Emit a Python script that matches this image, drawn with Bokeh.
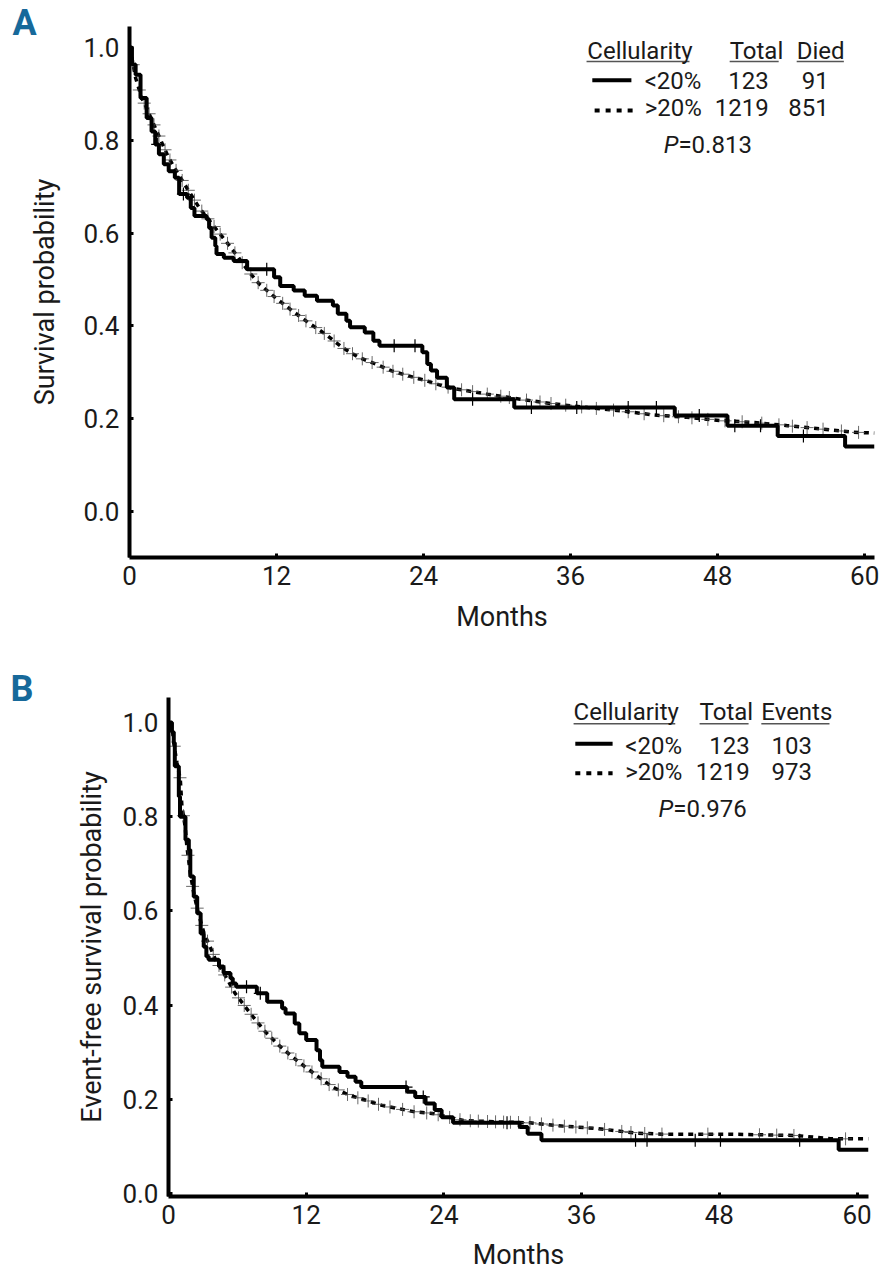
import numpy as np
from bokeh.plotting import figure
from bokeh.models import Range1d, FixedTicker, Label
from bokeh.embed import file_html
from bokeh.resources import INLINE

# ---------------- data ----------------
x_ticks = [0, 12, 24, 36, 48, 60]
y_ticks = [0.0, 0.2, 0.4, 0.6, 0.8, 1.0]
y_tick_labels = ["0.0", "0.2", "0.4", "0.6", "0.8", "1.0"]

groups = ["<20%", ">20%"]
totals = ["123", "1219"]
died_A = ["91", "851"]
events_B = ["103", "973"]
p_A = "=0.813"
p_B = "=0.976"

# Panel A, overall survival, <20% (Kaplan-Meier steps)
tA_lo = [0, 0.2, 0.5, 0.9, 1.4, 1.8, 2.1, 2.4, 2.8, 3.2, 3.7, 4.05, 4.7, 5.0, 5.3, 6.3,
         6.5, 6.7, 7.0, 7.1, 7.7, 8.5, 9.6, 11.8, 12.3, 13.4, 14.3, 15.3, 16.6, 17.0,
         17.7, 18.0, 19.2, 19.9, 20.4, 23.9, 24.3, 24.6, 25.1, 25.9, 26.5, 31.4, 44.5,
         48.8, 52.9, 58.4, 60.8]
sA_lo = [1.0, 0.963, 0.941, 0.891, 0.848, 0.819, 0.791, 0.770, 0.748, 0.733, 0.719, 0.684,
         0.676, 0.654, 0.637, 0.630, 0.611, 0.590, 0.572, 0.555, 0.547, 0.540, 0.522,
         0.505, 0.486, 0.476, 0.465, 0.454, 0.444, 0.426, 0.411, 0.397, 0.386, 0.368,
         0.357, 0.343, 0.318, 0.304, 0.288, 0.267, 0.242, 0.224, 0.207, 0.185, 0.163,
         0.140, 0.140]
cA_lo = [2.3, 4.4, 11.2, 21.6, 23.3, 28.0, 32.8, 36.5, 40.7, 43.0, 46.5, 49.4, 51.5, 55.0]

# Panel A, >20%
tA_hi = [0, 0.2, 0.5, 1.0, 1.45, 2.1, 2.7, 3.2, 4.0, 4.85, 5.7, 6.75, 7.85, 8.9, 9.7, 10.6,
         11.9, 13.3, 14.6, 16.0, 17.4, 18.7, 20.1, 21.4, 22.8, 24.2, 25.5, 26.5, 29.2,
         31.9, 34.6, 37.4, 40.1, 42.8, 45.5, 48.2, 51.0, 53.7, 56.4, 59.1, 60.8]
sA_hi = [1.0, 0.977, 0.934, 0.891, 0.866, 0.827, 0.791, 0.762, 0.726, 0.690, 0.654, 0.619,
         0.583, 0.547, 0.518, 0.490, 0.461, 0.432, 0.407, 0.382, 0.353, 0.332, 0.318,
         0.303, 0.292, 0.282, 0.271, 0.265, 0.253, 0.242, 0.232, 0.224, 0.217, 0.208,
         0.203, 0.196, 0.192, 0.185, 0.178, 0.171, 0.169]
cA_hi = [0.3, 0.8, 1.2, 1.6, 2.0, 2.4, 2.9, 3.3, 3.8, 4.3, 4.8, 5.3, 5.9, 6.4, 6.9, 7.4, 8.0,
         8.6, 9.2, 9.9, 10.5, 11.2, 11.8, 12.5, 13.1, 13.8, 14.4, 15.2, 15.9, 16.7, 17.5,
         18.2, 19.0, 19.8, 20.7, 21.5, 22.3, 23.2, 24.1, 25.0, 26.0, 27.1, 28.0, 29.2,
         30.3, 31.0, 32.4, 33.5, 34.4, 35.6, 36.9, 38.1, 39.5, 40.7, 42.0, 43.6, 44.8,
         45.9, 47.2, 48.6, 50.0, 51.6, 53.0, 54.1, 55.3, 56.6, 58.1, 59.5]

# Panel B, event-free survival, <20%
tB_lo = [0, 0.3, 0.46, 0.55, 0.9, 1.0, 1.48, 1.77, 1.9, 2.2, 2.5, 2.8, 3.07, 3.3, 3.5, 4.4,
         4.8, 5.4, 5.6, 5.9, 7.7, 8.6, 9.9, 10.2, 11.0, 11.4, 12.0, 12.9, 13.2, 13.4, 14.9,
         15.6, 16.3, 16.8, 20.8, 21.5, 22.4, 23.2, 23.8, 24.8, 30.6, 31.3, 32.5, 58.4, 61.0]
sB_lo = [1.0, 0.98, 0.957, 0.907, 0.843, 0.80, 0.751, 0.73, 0.673, 0.630, 0.595, 0.552,
         0.524, 0.503, 0.496, 0.482, 0.468, 0.457, 0.446, 0.439, 0.425, 0.407, 0.393,
         0.382, 0.361, 0.340, 0.326, 0.304, 0.283, 0.269, 0.258, 0.248, 0.237, 0.226,
         0.216, 0.205, 0.191, 0.177, 0.162, 0.150, 0.141, 0.127, 0.113, 0.093, 0.093]
cB_lo = [6.8, 8.0, 20.7, 22.2, 29.5, 40.7, 41.7, 45.9, 48.1, 55.0]

# Panel B, >20%
tB_hi = [0, 0.32, 0.45, 0.74, 1.03, 1.17, 1.45, 1.6, 1.9, 2.2, 2.6, 3.1, 3.6, 4.1, 5.0, 5.8,
         6.7, 7.6, 8.45, 9.6, 10.8, 11.9, 13.1, 14.3, 15.7, 17.2, 18.6, 20.1, 21.5, 23.0,
         24.4, 25.7, 28.6, 31.5, 34.4, 37.3, 40.8, 43.1, 48.9, 54.8, 57.7, 61.0]
sB_hi = [1.0, 0.99, 0.957, 0.914, 0.879, 0.822, 0.779, 0.737, 0.68, 0.638, 0.595, 0.552,
         0.525, 0.496, 0.460, 0.425, 0.396, 0.368, 0.343, 0.315, 0.290, 0.269, 0.247,
         0.226, 0.209, 0.198, 0.187, 0.180, 0.173, 0.170, 0.162, 0.155, 0.152, 0.150,
         0.143, 0.138, 0.128, 0.126, 0.126, 0.123, 0.116, 0.116]
cB_hi = [0.5, 1.0, 1.3, 1.7, 2.1, 2.5, 2.9, 3.4, 3.9, 4.4, 4.9, 5.5, 6.1, 6.6, 7.2, 7.8,
         8.4, 9.0, 9.7, 10.4, 11.1, 11.8, 12.5, 13.3, 14.0, 14.8, 15.6, 16.5, 17.4, 18.3,
         19.3, 20.4, 21.4, 22.5, 23.5, 24.5, 25.4, 26.3, 27.0, 27.8, 28.5, 29.2, 29.8,
         30.5, 31.5, 32.5, 33.5, 34.5, 35.5, 36.5, 38.0, 39.5, 40.3, 41.5, 43.0, 47.0,
         51.5, 53.0, 54.5, 59.0]

FONT = "Roboto"
TXT = "#1a1a1a"
BLUE = "#17699a"


def step_at(ts, t, s):
    idx = np.searchsorted(np.asarray(t), np.asarray(ts), side="right") - 1
    return list(np.asarray(s)[idx])


def style(p, ylabel, ystand, xstand):
    p.grid.visible = False
    p.outline_line_color = None
    for ax in (p.xaxis[0], p.yaxis[0]):
        ax.axis_line_width = 4
        ax.axis_line_color = "black"
        ax.major_tick_in = 4
        ax.major_tick_out = 0
        ax.major_tick_line_width = 3
        ax.major_tick_line_color = "black"
        ax.minor_tick_line_color = None
        ax.major_label_text_font = FONT
        ax.major_label_text_font_size = "26px"
        ax.major_label_text_color = TXT
        ax.axis_label_text_font = FONT
        ax.axis_label_text_font_size = "27px"
        ax.axis_label_text_font_style = "normal"
        ax.axis_label_text_color = TXT
    p.xaxis.ticker = FixedTicker(ticks=x_ticks)
    p.yaxis.ticker = FixedTicker(ticks=y_ticks)
    p.yaxis.major_label_overrides = {t: l for t, l in zip(y_ticks, y_tick_labels)}
    p.xaxis.axis_label = "Months"
    p.yaxis.axis_label = ylabel
    p.xaxis.major_label_standoff = 8
    p.yaxis.major_label_standoff = 10
    p.xaxis.axis_label_standoff = xstand
    p.yaxis.axis_label_standoff = ystand


def lab(p, x, y, text, align="left", size="24px", style_="normal", color=TXT, font=FONT,
        place=None):
    lb = Label(x=x, y=y, text=text, text_align=align, text_baseline="middle",
               text_font=font, text_font_size=size, text_font_style=style_,
               text_color=color)
    if place is None:
        p.add_layout(lb)
    else:
        p.add_layout(lb, place)


def curves(p, t_lo, s_lo, c_lo, t_hi, s_hi, c_hi):
    p.line(t_hi, s_hi, line_color="black", line_width=3.5, line_dash="5 5")
    p.scatter(c_hi, list(np.interp(c_hi, t_hi, s_hi)), marker="cross", size=13,
              line_color="#444444", line_width=1, line_alpha=0.8)
    p.step(t_lo, s_lo, mode="after", line_color="black", line_width=4)
    p.scatter(c_lo, step_at(c_lo, t_lo, s_lo), marker="cross", size=13,
              line_color="black", line_width=1.2)


# ---------------- panel A ----------------
pA = figure(width=880, height=665, output_backend="svg", toolbar_location=None,
            x_range=Range1d(0, 60.8), y_range=Range1d(-0.099, 1.045),
            min_border_left=129, min_border_right=6, min_border_top=26,
            min_border_bottom=108)
style(pA, "Survival probability", 19, 13)
curves(pA, tA_lo, sA_lo, cA_lo, tA_hi, sA_hi, cA_hi)

lab(pA, 37.36, 0.993, "Cellularity")
lab(pA, 48.98, 0.993, "Total")
lab(pA, 54.45, 0.993, "Died")
pA.segment(x0=[37.3, 48.98, 54.45], y0=[0.9698] * 3, x1=[45.7, 52.98, 58.3],
           y1=[0.9698] * 3, line_color="#555555", line_width=1.5)
pA.segment(x0=[37.77], y0=[0.929], x1=[40.96], y1=[0.929], line_color="black", line_width=4)
pA.segment(x0=[37.96], y0=[0.864], x1=[41.06], y1=[0.864], line_color="black", line_width=4,
           line_dash="5 6")
for g, tot, d, yc in zip(groups, totals, died_A, [0.928, 0.870]):
    lab(pA, 42.04, yc, g)
    lab(pA, 52.16, yc, tot, align="right")
    lab(pA, 57.06, yc, d, align="right")
lab(pA, 44.8, 0.7905, "P", align="right", style_="italic")
lab(pA, 44.8, 0.7905, p_A)
lab(pA, -9.55, 1.053, "A", size="36px", style_="bold", color=BLUE, place="left")

# ---------------- panel B ----------------
pB = figure(width=880, height=611, output_backend="svg", toolbar_location=None,
            x_range=Range1d(0, 61.0), y_range=Range1d(-0.0064, 1.053),
            min_border_left=168, min_border_right=12, min_border_top=32,
            min_border_bottom=80)
style(pB, "Event-free survival probability", 11, 12)
curves(pB, tB_lo, sB_lo, cB_lo, tB_hi, sB_hi, cB_hi)

lab(pB, 35.3, 1.0227, "Cellularity")
lab(pB, 46.28, 1.0227, "Total")
lab(pB, 51.66, 1.0227, "Events")
pB.segment(x0=[35.3, 46.28, 51.66], y0=[0.9972] * 3, x1=[44.16, 50.55, 57.6],
           y1=[0.9972] * 3, line_color="#555555", line_width=1.5)
pB.segment(x0=[35.45], y0=[0.9548], x1=[38.7], y1=[0.9548], line_color="black", line_width=4)
pB.segment(x0=[35.45], y0=[0.8924], x1=[38.7], y1=[0.8924], line_color="black", line_width=4,
           line_dash="5 6")
for g, tot, e, yc in zip(groups, totals, events_B, [0.951, 0.8953]):
    lab(pB, 39.8, yc, g)
    lab(pB, 50.64, yc, tot, align="right")
    lab(pB, 56.07, yc, e, align="right")
lab(pB, 43.99, 0.8168, "P", align="right", style_="italic")
lab(pB, 43.99, 0.8168, p_B)
lab(pB, -13.76, 1.070, "B", size="36px", style_="bold", color=BLUE, place="left")

open("out.html", "w").write(file_html([pA, pB], INLINE))
